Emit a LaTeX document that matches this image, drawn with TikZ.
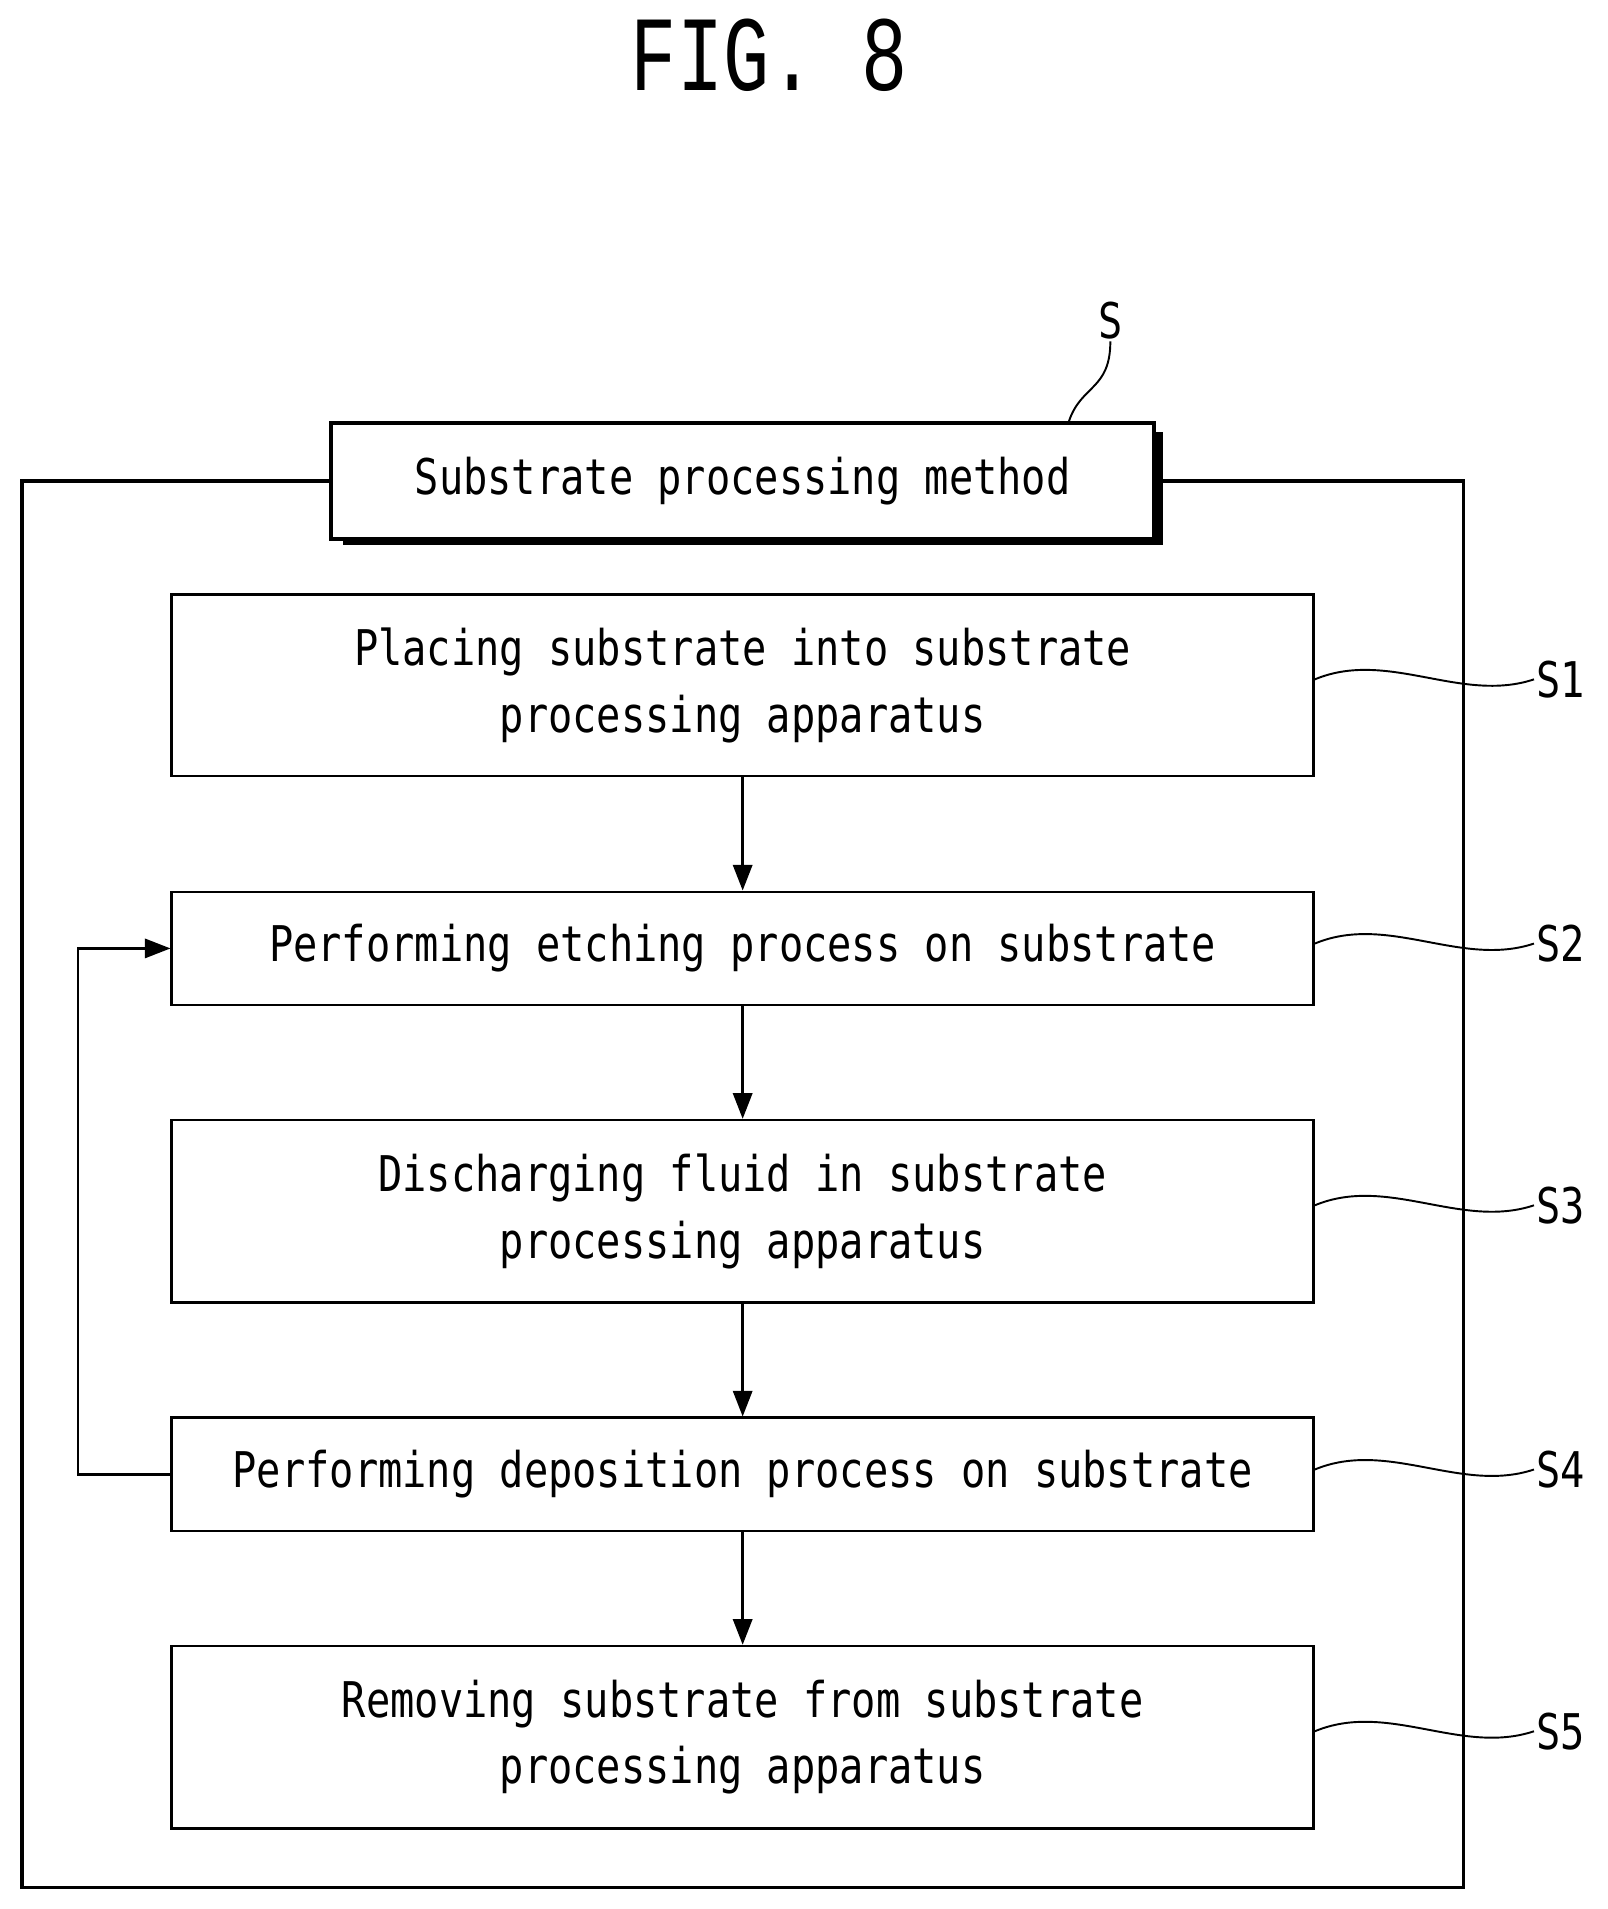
\documentclass[tikz,border=0pt]{standalone}
\usepackage{fontspec}
\setmonofont[FakeStretch=0.82]{DejaVu Sans Mono}
\newfontfamily\figfont[FakeStretch=0.72]{Liberation Mono}
\usetikzlibrary{arrows.meta,positioning}
\tikzset{
  stepbox/.style={draw, line width=1.2pt, minimum width=18.76cm, align=center,
    font=\ttfamily\fontsize{23}{31}\selectfont},
  tag/.style={font=\ttfamily\fontsize{23}{28}\selectfont, inner sep=1pt},
  flow/.style={line width=1.2pt, -{Stealth[length=12pt,width=9pt,inset=0pt]}},
  lead/.style={line width=0.9pt}
}
\begin{document}
\begin{tikzpicture}[x=0.02cm,y=-0.02cm]
\useasboundingbox (0,0) rectangle (1320,1568);

\node[font=\figfont\fontsize{50}{50}\selectfont] (fig) at (632,45) {FIG. 8};

% title box with shadow
\fill (282,355) rectangle (955,448);
\node[draw, fill=white, line width=1.8pt, minimum width=13.52cm, minimum height=1.9cm,
  font=\ttfamily\fontsize{23}{28}\selectfont] (title) at (610,395) {Substrate processing method};
\draw[line width=1.5pt] (title.west) -- (18,395) -- (18,1550) -- (1202,1550) -- (1202,395) -- (title.east);

% steps
\node[stepbox, minimum height=2.98cm] (s1) at (610,563) {Placing substrate into substrate\\processing apparatus};
\node[stepbox, minimum height=1.86cm] (s2) at (610,779) {Performing etching process on substrate};
\node[stepbox, minimum height=3cm] (s3) at (610,995) {Discharging fluid in substrate\\processing apparatus};
\node[stepbox, minimum height=1.86cm] (s4) at (610,1211) {Performing deposition process on substrate};
\node[stepbox, minimum height=3cm] (s5) at (610,1427) {Removing substrate from substrate\\processing apparatus};

\draw[flow] (s1) -- (s2);
\draw[flow] (s2) -- (s3);
\draw[flow] (s3) -- (s4);
\draw[flow] (s4) -- (s5);
\draw[flow] (s4.west) -- ++(-76,0) |- (s2.west);

% reference labels
\node[tag] (ls) at (912,263) {S};
\draw[lead] (ls.south) .. controls +(0,40) and +(10,-30) .. (878,346);
\foreach \n/\y in {1/558,2/775,3/990,4/1207,5/1422}{
  \node[tag] (l\n) at (1282,\y) {S\n};
  \draw[lead] (s\n.east |- 0,\y) .. controls +(60,-25) and +(-60,20) .. (l\n.west);
}
\end{tikzpicture}
\end{document}
